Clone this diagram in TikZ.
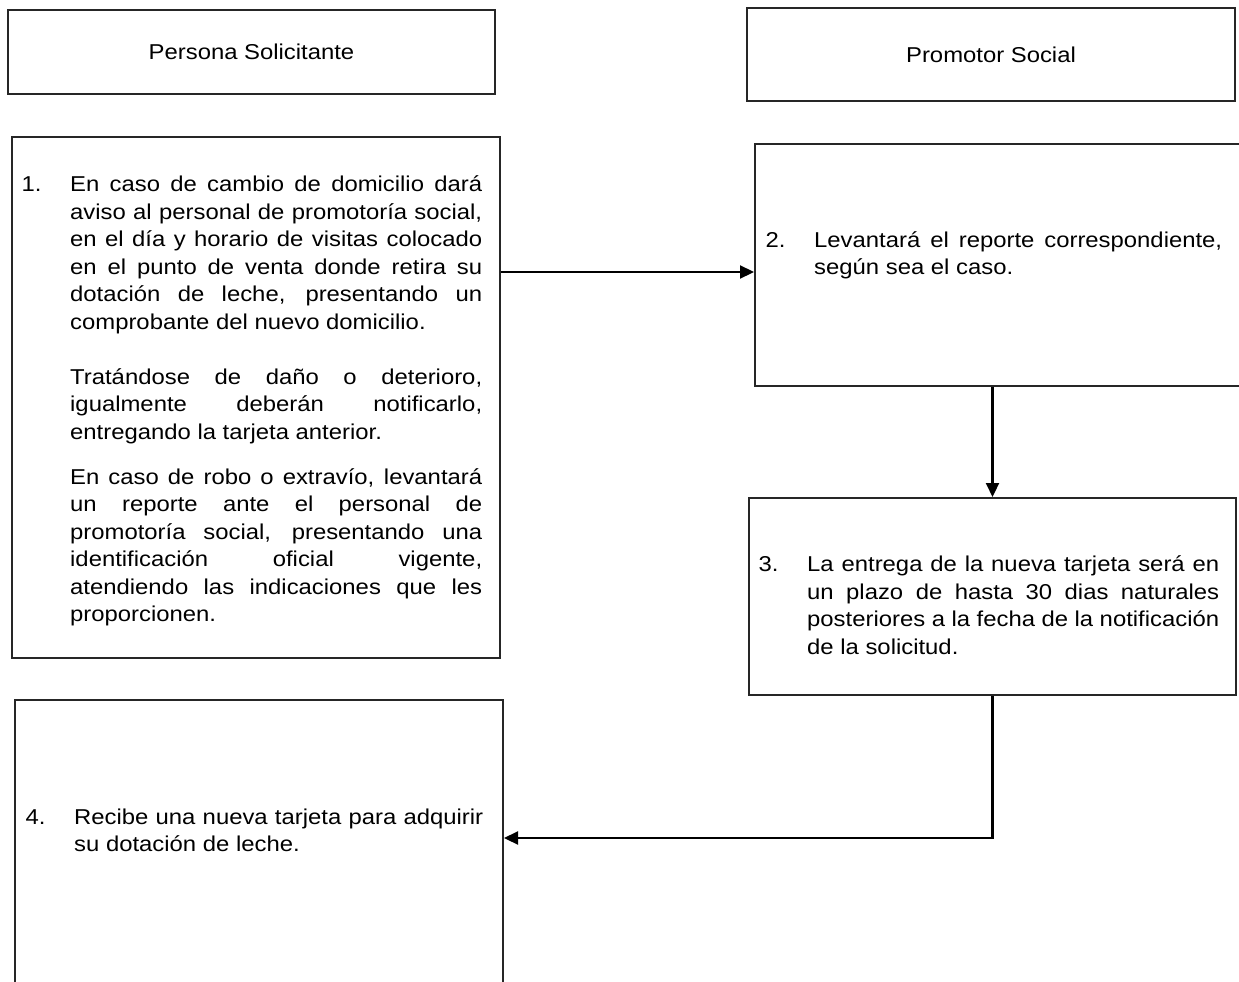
\documentclass[tikz,border=0pt]{standalone}
\usepackage{fontspec}
\setmainfont{Liberation Sans}[FakeStretch=1.11]
\usetikzlibrary{arrows.meta}
\newcommand{\bodyfont}{\fontsize{21.5}{27.5}\selectfont}
\newcommand{\jl}[1]{\makebox[\linewidth][s]{#1}\par}
\newcommand{\lastln}[1]{\makebox[\linewidth][l]{#1}\par}
\newcommand{\stepnum}[1]{\llap{\makebox[48.5pt][l]{#1}}}
\begin{document}
\begin{tikzpicture}[x=1pt,y=-1pt,
  box/.style={draw=black!85, line width=2pt, rectangle, inner sep=0pt, font=\bodyfont},
  arr/.style={draw=black, line width=2.2pt, -{Triangle[length=14pt,width=13pt]}},
  txt/.style={inner sep=0pt, anchor=base west}]
\useasboundingbox (0,0) rectangle (1239,982);
\fill[white] (0,0) rectangle (1239,982);
% headers
\node[box, minimum width=487pt, minimum height=84pt] (h1) at (251.5,52) {Persona Solicitante};
\node[box, minimum width=488pt, minimum height=93pt] (h2) at (991,54.5) {Promotor Social};
% step boxes
\node[box, minimum width=488pt, minimum height=521pt] (b1) at (256,397.5) {};
\node[box, minimum width=486pt, minimum height=242pt] (b2) at (998,265) {};
\node[box, minimum width=487pt, minimum height=197pt] (b3) at (992.5,596.5) {};
\node[box, minimum width=488pt, minimum height=300pt] (b4) at (259,850) {};
% texts
\node[txt] (t1) at (70,191.7) {\parbox[t]{412pt}{\bodyfont
\jl{\stepnum{1.}En caso de cambio de domicilio dará}
\jl{aviso al personal de promotoría social,}
\jl{en el día y horario de visitas colocado}
\jl{en el punto de venta donde retira su}
\jl{dotación de leche, presentando un}
\lastln{comprobante del nuevo domicilio.}
\vspace{27.5pt}
\jl{Tratándose de daño o deterioro,}
\jl{igualmente deberán notificarlo,}
\lastln{entregando la tarjeta anterior.}
\vspace{17.5pt}
\jl{En caso de robo o extravío, levantará}
\jl{un reporte ante el personal de}
\jl{promotoría social, presentando una}
\jl{identificación oficial vigente,}
\jl{atendiendo las indicaciones que les}
\lastln{proporcionen.}}};
\node[txt] (t2) at (814,247) {\parbox[t]{408pt}{\bodyfont
\jl{\stepnum{2.}Levantará el reporte correspondiente,}
\lastln{según sea el caso.}}};
\node[txt] (t3) at (807,571.5) {\parbox[t]{412pt}{\bodyfont
\jl{\stepnum{3.}La entrega de la nueva tarjeta será en}
\jl{un plazo de hasta 30 dias naturales}
\jl{posteriores a la fecha de la notificación}
\lastln{de la solicitud.}}};
\node[txt] (t4) at (74,824) {\parbox[t]{409pt}{\bodyfont
\jl{\stepnum{4.}Recibe una nueva tarjeta para adquirir}
\lastln{su dotación de leche.}}};
% connectors
\coordinate (a12) at (0,272);
\coordinate (a34) at (0,838);
\draw[arr] (b1.east |- a12) -- (b2.west |- a12);
\draw[arr] (b3.north |- b2.south) -- (b3.north);
\draw[arr] (b3.south) |- (b4.east |- a34);
\end{tikzpicture}
\end{document}
